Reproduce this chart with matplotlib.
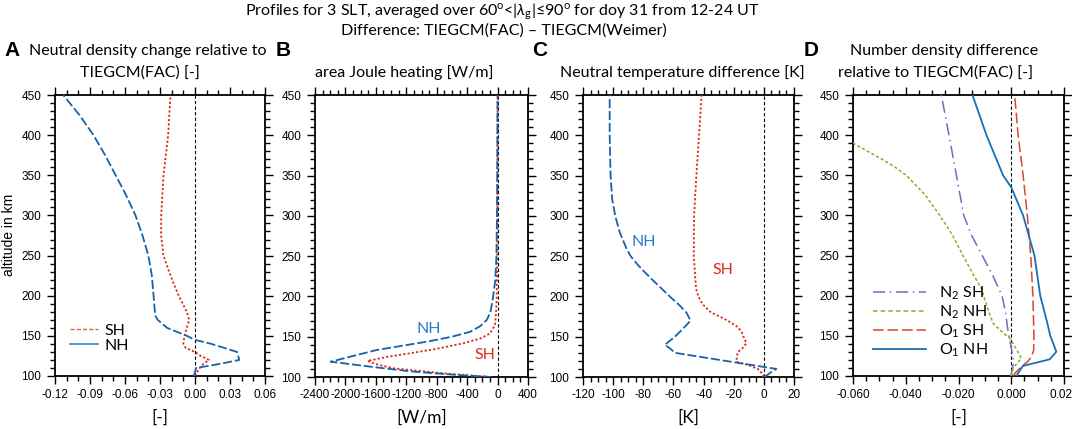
import matplotlib
matplotlib.use("Agg")
import matplotlib.pyplot as plt
from matplotlib.lines import Line2D
from matplotlib.ticker import MultipleLocator, FormatStrFormatter

plt.rcParams['axes.unicode_minus'] = False
plt.rcParams['mathtext.fontset'] = 'custom'
plt.rcParams['mathtext.rm'] = 'Lato'
plt.rcParams['mathtext.it'] = 'Lato:italic'

# ---------------- data ----------------
# Panel A: neutral density change relative to TIEGCM(FAC)
alt_A_nh = [100, 105, 110, 115, 120, 130, 140, 145, 150, 160, 170, 175, 190, 200, 225, 250, 275, 300, 325, 350, 375, 400, 425, 450]
nh_A = [-0.001, 0.0, 0.001, 0.021, 0.038, 0.036, 0.014, 0.0, -0.007, -0.024, -0.032, -0.034, -0.035, -0.0355, -0.037,
        -0.040, -0.045, -0.051, -0.059, -0.068, -0.077, -0.087, -0.099, -0.113]
alt_A_sh = [100, 105, 110, 115, 120, 125, 130, 135, 140, 150, 160, 170, 180, 200, 225, 250, 275, 300, 350, 400, 450]
sh_A = [0.0, 0.002, 0.004, 0.007, 0.012, 0.005, 0.0, -0.008, -0.010, -0.009, -0.007, -0.005, -0.007, -0.014, -0.021,
        -0.027, -0.029, -0.029, -0.027, -0.023, -0.021]

# Panel B: area Joule heating difference [W/m]
alt_B_nh = [100, 103, 107, 112, 119, 133.5, 143.8, 150, 156, 163, 170.7, 180, 195.5, 220, 250, 300, 350, 400, 450]
nh_B = [-80, -600, -1150, -1600, -2194, -1590, -932, -600, -363, -230, -143, -95, -65, -30, -15, -8, -4, -2, 0]
alt_B_sh = [100, 104.6, 110.8, 116, 120, 125, 129.4, 135, 141.8, 148, 154, 164.5, 180, 195.5, 250, 300, 450]
sh_B = [-100, -714, -1371, -1600, -1710, -1450, -1152, -800, -451, -220, -100, -34, -20, -12, -5, -3, 0]

# Panel C: neutral temperature difference [K]
alt_C_nh = [100, 102, 105, 110, 130, 135, 140, 150, 160, 170, 180, 190, 200, 210, 220, 230, 240, 250, 260, 280, 300,
            320, 350, 400, 450]
nh_C = [0.5, 2, 4, 8.3, -59, -62, -65.7, -59, -53.6, -48.6, -51.4, -56.5, -62.5, -68, -73.6, -79, -84, -88.4, -91.3,
        -95.7, -98.6, -100.6, -101.7, -102.3, -102.3]
alt_C_sh = [100, 105, 110, 115, 119, 125, 131, 136, 142, 150, 155, 162, 170, 175, 180, 190, 200, 210, 250, 300, 350,
            400, 450]
sh_C = [0.0, -1.5, -4, -10.5, -18.2, -18, -17.2, -14, -11.6, -13.5, -14.5, -17.2, -24, -29.3, -35, -40.5, -43.5, -45,
        -46.5, -46.3, -44.8, -43, -41.3]

# Panel D: number density difference relative to TIEGCM(FAC)
alt_D_n2sh = [100, 103, 110, 120, 130, 145, 160, 180, 200, 225, 250, 275, 300, 350, 400, 450]
n2sh_D = [-0.0002, 0.0, 0.0006, 0.0008, 0.0003, -0.0006, -0.0014, -0.0022, -0.0035, -0.0070, -0.0110, -0.0150,
          -0.0180, -0.0208, -0.0236, -0.0265]
alt_D_n2nh = [100, 104, 109.6, 115, 122, 130, 140, 147, 155, 165.6, 180, 200, 207, 230, 250, 275, 300, 325, 350, 360,
              370, 380, 390]
n2nh_D = [0.0, 0.0003, 0.0006, 0.002, 0.0038, 0.0025, 0.0008, -0.0006, -0.0035, -0.0069, -0.0085, -0.0105, -0.0110,
          -0.0150, -0.0183, -0.0222, -0.0271, -0.0325, -0.0398, -0.0440, -0.0490, -0.0545, -0.060]
alt_D_o1sh = [100, 103, 111.6, 118, 125, 132, 150, 200, 250, 300, 350, 400, 450]
o1sh_D = [0.0008, 0.0013, 0.0038, 0.0063, 0.0078, 0.0085, 0.0086, 0.0082, 0.0074, 0.0061, 0.0045, 0.0026, 0.0013]
alt_D_o1nh = [100, 103, 112.5, 120.8, 130.3, 150, 165.6, 200, 250, 300, 335, 350, 400, 450]
o1nh_D = [0.002, 0.0025, 0.0044, 0.0146, 0.0171, 0.0148, 0.0137, 0.0110, 0.0088, 0.0045, 0.0, -0.0031, -0.0094,
          -0.0147]

x_ticks_A = [-0.12, 0.06]
x_ticks_B = [-2400, 400]
x_ticks_C = [-120, 20]
x_ticks_D = [-0.06, 0.02]

# ---------------- figure ----------------
W, H = 1072, 429
fig = plt.figure(figsize=(W / 100, H / 100), dpi=100)


def P(x, y):
    return x / W, 1 - y / H


def add_ax(l, r, t, b):
    return fig.add_axes([l / W, 1 - b / H, (r - l) / W, (b - t) / H])


TF = 'Lato'
TICKF = 'Liberation Sans'
BLUE = '#1762a8'
RED = '#d8281a'
BLUE_T = '#2a7ac6'
RED_T = '#e0261a'


def style(ax, xlim, major, minor, fmt):
    ax.set_xlim(xlim)
    ax.set_ylim(100, 450)
    ax.xaxis.set_major_locator(MultipleLocator(major))
    ax.xaxis.set_minor_locator(MultipleLocator(minor))
    ax.yaxis.set_major_locator(MultipleLocator(50))
    ax.yaxis.set_minor_locator(MultipleLocator(10))
    ax.xaxis.set_major_formatter(FormatStrFormatter(fmt))
    ax.tick_params(which='both', direction='out', top=True, right=True, width=1.0, colors='black')
    ax.tick_params(which='major', length=6, labelsize=8.5, pad=3)
    ax.tick_params(which='minor', length=3.5)
    ax.tick_params(axis='y', which='major', pad=4)
    for lab in ax.get_xticklabels() + ax.get_yticklabels():
        lab.set_fontfamily(TICKF)
    for s in ax.spines.values():
        s.set_linewidth(1.3)
    ax.axvline(0, color='black', lw=0.8, ls=(0, (3, 2)), zorder=1)


axA = add_ax(55, 265, 95, 376)
axB = add_ax(315, 528, 95, 377)
axC = add_ax(583, 794, 95, 377)
axD = add_ax(853, 1064, 95, 376)

# Panel A
style(axA, x_ticks_A, 0.03, 0.01, '%.2f')
axA.plot(sh_A, alt_A_sh, color=RED, lw=1.3, ls=(0, (1.2, 1.2)), zorder=3)
axA.plot(nh_A, alt_A_nh, color=BLUE, lw=1.3, ls=(0, (5, 1.6)), zorder=3)
hA = [Line2D([], [], color='#e8604c', lw=1.0, ls=(0, (3, 1.5))), Line2D([], [], color='#3a86c8', lw=1.2)]
axA.legend(hA, ['SH', 'NH'], loc='lower left', bbox_to_anchor=(0.07, 0.082), frameon=False,
           prop={'family': TF, 'size': 11.5}, handlelength=1.8, handletextpad=0.4, labelspacing=0.05,
           borderpad=0, borderaxespad=0)

# Panel B
style(axB, x_ticks_B, 400, 100, '%d')
axB.plot(sh_B, alt_B_sh, color=RED, lw=1.3, ls=(0, (1.2, 1.2)), zorder=3)
axB.plot(nh_B, alt_B_nh, color=BLUE, lw=1.3, ls=(0, (5, 1.6)), zorder=3)
axB.text(-910, 160, 'NH', color=BLUE_T, fontsize=11.5, family=TF, ha='center', va='center')
axB.text(-165, 127, 'SH', color=RED_T, fontsize=11.5, family=TF, ha='center', va='center')

# Panel C
style(axC, x_ticks_C, 20, 5, '%d')
axC.plot(sh_C, alt_C_sh, color=RED, lw=1.3, ls=(0, (1.2, 1.2)), zorder=3)
axC.plot(nh_C, alt_C_nh, color=BLUE, lw=1.3, ls=(0, (5, 1.6)), zorder=3)
axC.text(-80, 267, 'NH', color=BLUE_T, fontsize=11.5, family=TF, ha='center', va='center')
axC.text(-27, 233, 'SH', color=RED_T, fontsize=11.5, family=TF, ha='center', va='center')

# Panel D
style(axD, x_ticks_D, 0.02, 0.005, '%.3f')
PURPLE = '#7a66c8'
GREEN = '#7cb42c'
RED2 = '#d9462c'
BLUE2 = '#1570b4'
axD.plot(n2sh_D, alt_D_n2sh, color=PURPLE, lw=1.1, ls=(0, (8, 3, 1, 3)), zorder=3)
axD.plot(n2nh_D, alt_D_n2nh, color=GREEN, lw=1.1, ls=(0, (2, 1.5)), zorder=3)
axD.plot(o1sh_D, alt_D_o1sh, color=RED2, lw=1.1, ls=(0, (7, 2.5)), zorder=3)
axD.plot(o1nh_D, alt_D_o1nh, color=BLUE2, lw=1.3, ls='-', zorder=3)
hD = [Line2D([], [], color=PURPLE, lw=1.1, ls=(0, (8, 3, 1, 3))),
      Line2D([], [], color=GREEN, lw=1.1, ls=(0, (3, 2))),
      Line2D([], [], color=RED2, lw=1.1, ls=(0, (7, 2.5))),
      Line2D([], [], color=BLUE2, lw=1.3)]
axD.legend(hD, [r'N$_\mathregular{2}$ SH', r'N$_\mathregular{2}$ NH', r'O$_\mathregular{1}$ SH',
                r'O$_\mathregular{1}$ NH'],
           loc='lower left', bbox_to_anchor=(0.095, 0.06), frameon=False,
           prop={'family': TF, 'size': 11.5}, handlelength=3.3, handletextpad=0.8, labelspacing=0.1,
           borderpad=0, borderaxespad=0)

# ---------------- texts ----------------
fig.text(*P(502, 12), r'Profiles for 3 SLT, averaged over 60$^\mathregular{o}$<|$\lambda_\mathregular{g}$|≤90$^\mathregular{o}$ for doy 31 from 12-24 UT',
         ha='center', va='center', family=TF, fontsize=11.5)
fig.text(*P(504, 31), 'Difference: TIEGCM(FAC) – TIEGCM(Weimer)', ha='center', va='center', family=TF, fontsize=11.5)

for lx, letter in [(12, 'A'), (283, 'B'), (540, 'C'), (811, 'D')]:
    fig.text(*P(lx, 50), letter, ha='center', va='center', family=TICKF, fontweight='bold', fontsize=15)

TS = 11.5
L1, L2 = 51, 73
fig.text(*P(148, L1), 'Neutral density change relative to', ha='center', va='center', family=TF, fontsize=TS)
fig.text(*P(140, L2), 'TIEGCM(FAC) [-]', ha='center', va='center', family=TF, fontsize=TS)
fig.text(*P(404, L2), 'area Joule heating [W/m]', ha='center', va='center', family=TF, fontsize=TS)
fig.text(*P(682, L2), 'Neutral temperature difference [K]', ha='center', va='center', family=TF, fontsize=TS)
fig.text(*P(944, L1), 'Number density difference', ha='center', va='center', family=TF, fontsize=TS)
fig.text(*P(936, L2), 'relative to TIEGCM(FAC) [-]', ha='center', va='center', family=TF, fontsize=TS)

fig.text(*P(9, 235), 'altitude in km', rotation=90, ha='center', va='center', family=TICKF, fontsize=10)

for ax, lab in [(axA, '[-]'), (axB, '[W/m]'), (axC, '[K]'), (axD, '[-]')]:
    pos = ax.get_position()
    fig.text(pos.x0 + pos.width / 2, 1 - 418 / H, lab, ha='center', va='center', family=TF, fontsize=12.5)

fig.savefig('out.png', dpi=100)
